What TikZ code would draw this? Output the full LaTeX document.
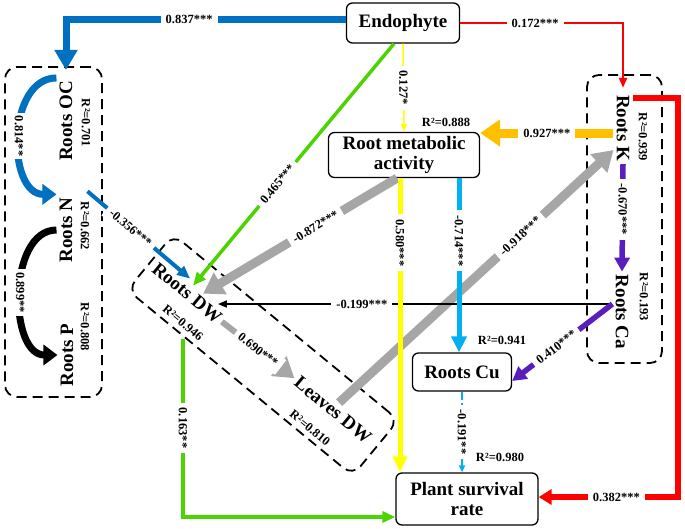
\documentclass[tikz,border=0pt]{standalone}
\usepackage{fontspec}
\setmainfont{Liberation Serif}
\usetikzlibrary{arrows.meta}

\definecolor{ocblue}{RGB}{0,112,192}
\definecolor{cublue}{RGB}{0,176,240}
\definecolor{kgold}{RGB}{255,192,0}
\definecolor{rmyellow}{RGB}{255,255,0}
\definecolor{dwgreen}{RGB}{76,212,0}
\definecolor{arrgray}{RGB}{166,166,166}
\definecolor{capurple}{RGB}{90,30,190}

\newcommand{\ttlfont}{\fontsize{19}{20}\selectfont\bfseries}
\newcommand{\coeffont}{\fontsize{12.5}{13}\selectfont\bfseries}

\begin{document}
\begin{tikzpicture}[x=1pt, y=-1pt,
    box/.style={draw, rounded corners=6pt, line width=1.3pt, align=center, font=\ttlfont, inner sep=2pt},
    var/.style={font=\ttlfont, inner sep=3pt},
    rsq/.style={font=\coeffont, inner sep=1pt},
    coef/.style={font=\coeffont, fill=white, inner sep=5pt},
    grp/.style={draw, dash pattern=on 10pt off 6pt, line width=1.8pt, rounded corners=12pt, inner sep=0pt},
    bluebar/.style={draw=ocblue, line width=7pt, -{Triangle[width=22pt,length=20pt]}},
    bluecurve/.style={draw=ocblue, line width=7pt, -{Triangle[width=20pt,length=14pt]}},
    blackcurve/.style={draw=black, line width=7pt, -{Triangle[width=20pt,length=14pt]}},
    bluethin/.style={draw=ocblue, line width=4pt, -{Triangle[width=11pt,length=13pt]}},
    greenline/.style={draw=dwgreen, line width=3.5pt, -{Triangle[width=11pt,length=13pt]}},
    graybar/.style={draw=arrgray, line width=9pt, -{Triangle[width=24pt,length=20pt]}},
    blackline/.style={draw=black, line width=1.5pt, -{Triangle[width=7pt,length=9pt]}},
    purplebar/.style={draw=capurple, line width=5.5pt, -{Triangle[width=15pt,length=14pt]}},
    redline/.style={draw=red, line width=2pt, -{Triangle[width=8pt,length=10pt]}},
    redbar/.style={draw=red, line width=6pt, -{Triangle[width=15pt,length=13pt]}},
    goldbar/.style={draw=kgold, line width=9pt, -{Triangle[width=26pt,length=20pt]}},
    yellowthin/.style={draw=rmyellow, line width=1.5pt, -{Triangle[width=6pt,length=8pt]}},
    yellowbar/.style={draw=rmyellow, line width=5pt, -{Triangle[width=14pt,length=16pt]}},
    cyanbar/.style={draw=cublue, line width=5pt, -{Triangle[width=15pt,length=16pt]}},
    cyandash/.style={draw=cublue, line width=2pt, dash pattern=on 8pt off 3pt, -{Triangle[width=6pt,length=7pt]}}]
    \useasboundingbox (0,0) rectangle (685,528);

    % We start by placing the groups and the blocks
    \node[grp, minimum width=97pt, minimum height=330pt] (leftgrp) at (53.5,232) {};
    \node[grp, minimum width=75pt, minimum height=288pt] (rightgrp) at (624.5,219) {};
    \node[grp, rotate=-39.5, minimum width=292pt, minimum height=72pt] (dwgrp) at (263,355) {};

    \node[box, minimum width=113pt, minimum height=40pt] (endo) at (403,23) {Endophyte};
    \node[box, minimum width=151pt, minimum height=45pt] (rma) at (404,155) {Root metabolic\\activity};
    \node[box, minimum width=99pt, minimum height=38pt] (cu) at (462,372) {Roots Cu};
    \node[box, minimum width=142pt, minimum height=52pt] (psr) at (467,499) {Plant survival\\rate};

    \node[var, rotate=90] (oc) at (66,121) {Roots OC};
    \node[var, rotate=90] (n) at (66,230) {Roots N};
    \node[var, rotate=90] (p) at (67,355) {Roots P};
    \node[var, rotate=-90] (k) at (623,128) {Roots K};
    \node[var, rotate=-90] (ca) at (622,312) {Roots Ca};
    \node[var, rotate=-39.5] (dw) at (187,293) {Roots DW};
    \node[var, rotate=-39.5] (ldw) at (333,410) {Leaves DW};

    % R squared of each block
    \node[rsq, rotate=-90] (ocr2) at (86,123) {R²=0.701};
    \node[rsq, rotate=-90] (nr2) at (85,226) {R²=0.662};
    \node[rsq, rotate=-90] (pr2) at (85,327) {R²=0.808};
    \node[rsq, rotate=-90] (kr2) at (643,137) {R²=0.939};
    \node[rsq, rotate=-90] (car2) at (644,297) {R²=0.193};
    \node[rsq, rotate=-39.5] (dwr2) at (183,323) {R²=0.946};
    \node[rsq, rotate=-39.5] (ldwr2) at (310,428) {R²=0.810};
    \node[rsq] (rmar2) at (446,122) {R²=0.888};
    \node[rsq] (cur2) at (502,340) {R²=0.941};
    \node[rsq] (psrr2) at (500,457) {R²=0.980};

    \path ([yshift=8pt]ca.south) coordinate (cain)
          ([xshift=-10pt]dw.north east) coordinate (dwin)
          ([yshift=-5pt]k.south) coordinate (kout)
          ([xshift=-4pt]rma.south) coordinate (rmay)
          ([xshift=55pt]rma.south) coordinate (rmac);

    % Then the paths
    \draw[bluebar] ([yshift=4pt]endo.west) -| node[coef, pos=0.28] {0.837***} ([yshift=8pt]oc.east);
    \draw[redline] (endo.east) -| node[coef, pos=0.23] {0.172***} ([yshift=4pt]k.west);
    \draw[yellowthin] (endo.south) -- node[coef, rotate=-90] {0.127*} (rma.north);
    \draw[greenline] ([xshift=-9pt]endo.south) -- node[coef, sloped, pos=0.58] {0.465***} (dw.north);

    \draw[bluecurve] (oc.north east) to[out=180, in=180, looseness=1.1] node[coef, rotate=-90, inner sep=3pt] {0.814**} (n.north east);
    \draw[blackcurve] (n.north) to[out=180, in=180] node[coef, rotate=-90, inner sep=3pt] {0.899**} (p.north);
    \draw[bluethin] ([xshift=12pt,yshift=3pt]n.south east) -- node[coef, sloped, pos=0.42] {-0.356***} ([xshift=-3pt,yshift=7pt]dw.north);

    \draw[graybar] ([xshift=-7pt]rma.south) -- node[coef, sloped, pos=0.42] {-0.872***} ([xshift=10pt,yshift=-8pt]dw.north);
    \draw[graybar, line width=6pt] (dw.east) -- node[coef, sloped] {0.690***} (ldw.west);
    \draw[graybar] (ldw.north) -- node[coef, sloped, pos=0.66] {-0.918***} ([yshift=-22pt]k.south);
    \draw[greenline] ([yshift=-16pt]dwr2.center) |- node[coef, rotate=-90, pos=0.25] {0.163**} ([yshift=-18pt]psr.west);

    \draw[goldbar] (kout) -- node[coef] {0.927***} (kout -| rma.east);
    \draw[purplebar] (k.east) -- node[coef, rotate=-90, pos=0.42] {-0.670***} (ca.west);
    \draw[blackline] (cain) -- node[coef, pos=0.635] {-0.199***} (cain -| dwin);
    \draw[purplebar] (cain) -- node[coef, sloped, pos=0.56] {0.410***} ([yshift=-9pt]cu.east);
    \draw[redbar] ([yshift=-6pt]k.north west) -- ++(45,0) |- node[coef, pos=0.72] {0.382***} ([yshift=2pt]psr.east);

    \draw[yellowbar] (rmay) -- node[coef, rotate=-90, pos=0.22] {0.580***} (rmay |- psr.north);
    \draw[cyanbar] (rmac) -- node[coef, rotate=-90, pos=0.36] {-0.714***} (rmac |- cu.north);
    \draw[cyandash] (cu.south) -- node[coef, rotate=-90] {-0.191**} (cu.south |- psr.north);
\end{tikzpicture}
\end{document}
